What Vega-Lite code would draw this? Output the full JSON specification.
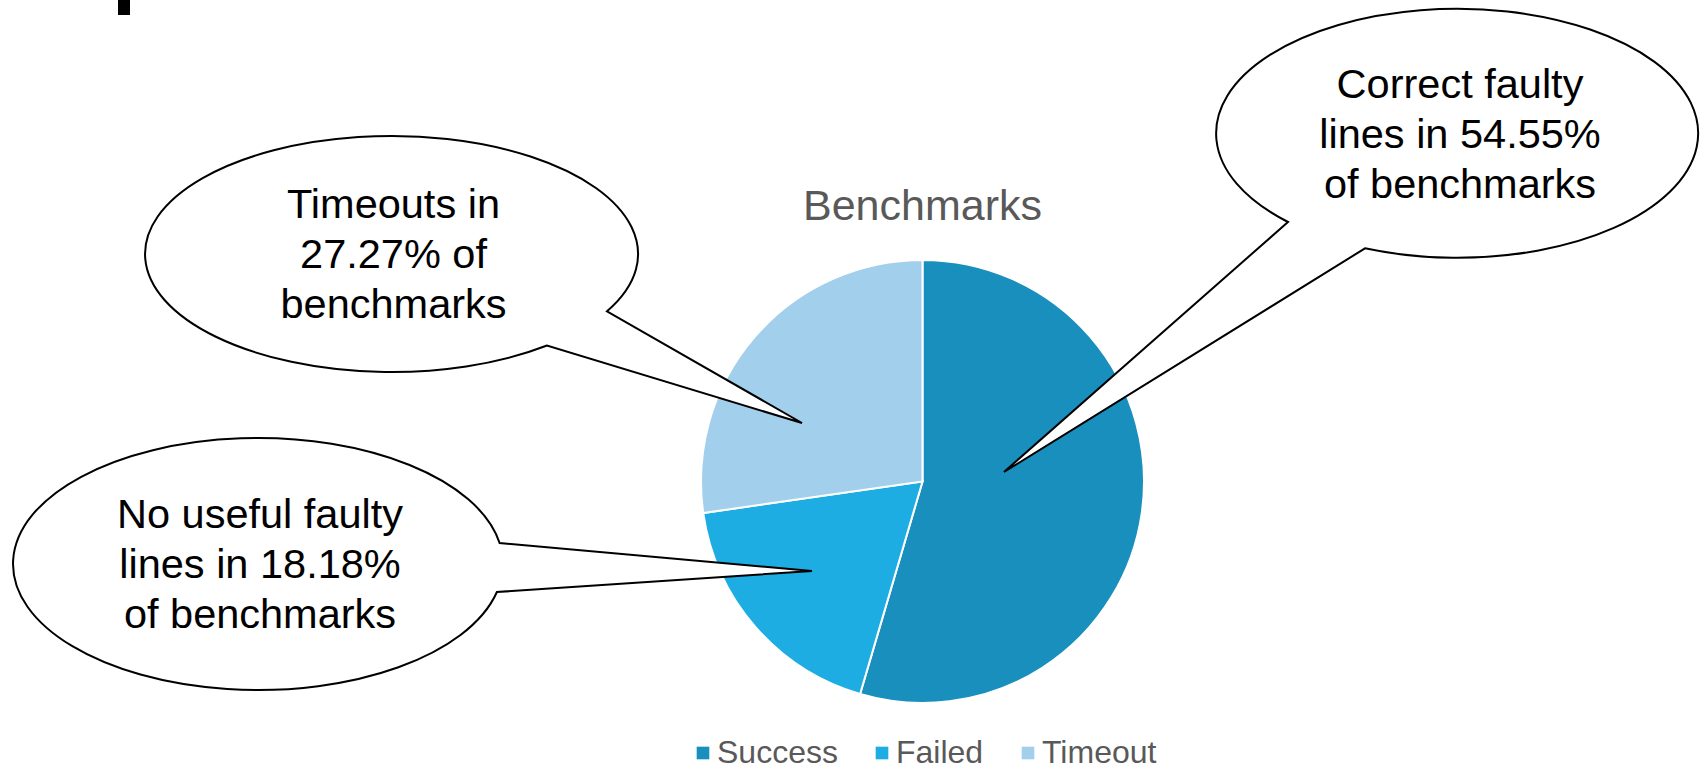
{
  "$schema": "https://vega.github.io/schema/vega-lite/v6.json",
  "width": 1701,
  "height": 771,
  "autosize": {"type": "none"},
  "padding": 0,
  "background": "white",
  "config": {"view": {"stroke": null}, "font": "Liberation Sans"},
  "datasets": {
    "slices": [
      {"status": "Success", "count": 6, "idx": 1},
      {"status": "Failed", "count": 2, "idx": 2},
      {"status": "Timeout", "count": 3, "idx": 3}
    ],
    "callouts": [
      {"id": "success", "cx": 1458, "cy": 133.5, "lines": ["Correct faulty", "lines in 54.55%", "of benchmarks"]},
      {"id": "timeout", "cx": 391.5, "cy": 254, "lines": ["Timeouts in", "27.27% of", "benchmarks"]},
      {"id": "failed", "cx": 258, "cy": 564, "lines": ["No useful faulty", "lines in 18.18%", "of benchmarks"]}
    ],
    "titles": [{"label": "Benchmarks"}]
  },
  "layer": [
    {
      "data": {"name": "titles"},
      "mark": {"type": "text", "fontSize": 43, "color": "#595959", "align": "center", "baseline": "alphabetic", "font": "Liberation Sans"},
      "encoding": {
        "text": {"field": "label", "type": "nominal"},
        "x": {"datum": 922.5, "type": "quantitative", "scale": {"domain": [0, 1701], "nice": false, "zero": false}, "axis": null},
        "y": {"datum": 220, "type": "quantitative", "scale": {"domain": [0, 771], "reverse": true, "nice": false, "zero": false}, "axis": null}
      }
    },
    {
      "data": {"name": "slices"},
      "mark": {"type": "arc", "outerRadius": 221.5, "stroke": "white", "strokeWidth": 2},
      "encoding": {
        "theta": {"field": "count", "type": "quantitative", "stack": true},
        "order": {"field": "idx", "type": "quantitative"},
        "color": {
          "field": "status",
          "type": "nominal",
          "scale": {"domain": ["Success", "Failed", "Timeout"], "range": ["#188FBD", "#1EADE2", "#A2CFEC"]},
          "legend": {
            "title": null,
            "orient": "none",
            "direction": "horizontal",
            "legendX": 687,
            "legendY": 737,
            "padding": 0,
            "symbolType": "square",
            "symbolSize": 160,
            "symbolStrokeWidth": 0,
            "labelFontSize": 32,
            "labelFont": "Liberation Sans",
            "labelColor": "#595959",
            "labelOffset": -2,
            "columnPadding": 28
          }
        },
        "x": {"datum": 922.5, "type": "quantitative", "scale": {"domain": [0, 1701], "nice": false, "zero": false}, "axis": null},
        "y": {"datum": 481.5, "type": "quantitative", "scale": {"domain": [0, 771], "reverse": true, "nice": false, "zero": false}, "axis": null}
      }
    },
    {
      "data": {"name": "callouts"},
      "mark": {"type": "point", "filled": true, "fill": "white", "stroke": "black", "strokeWidth": 2, "opacity": 1, "size": 4},
      "encoding": {
        "shape": {
          "field": "id",
          "type": "nominal",
          "scale": {
            "domain": ["success", "timeout", "failed"],
            "range": [
              "M-170,88.5 A241,124.5 0 1 1 -93,114.85 L-454,338.5 Z",
              "M215.5,57.3 A246.5,118 0 1 0 155.5,91.55 L410.5,169 Z",
              "M241.6,-21 A245,126 0 1 0 238.9,28 L554,7 Z"
            ]
          },
          "legend": null
        },
        "x": {"field": "cx", "type": "quantitative", "scale": {"domain": [0, 1701], "nice": false, "zero": false}, "axis": null},
        "y": {"field": "cy", "type": "quantitative", "scale": {"domain": [0, 771], "reverse": true, "nice": false, "zero": false}, "axis": null}
      }
    },
    {
      "data": {"name": "callouts"},
      "mark": {"type": "text", "fontSize": 41.5, "lineHeight": 50, "color": "black", "align": "center", "baseline": "middle", "dx": 2, "dy": -48, "font": "Liberation Sans"},
      "encoding": {
        "text": {"field": "lines"},
        "x": {"field": "cx", "type": "quantitative", "scale": {"domain": [0, 1701], "nice": false, "zero": false}, "axis": null},
        "y": {"field": "cy", "type": "quantitative", "scale": {"domain": [0, 771], "reverse": true, "nice": false, "zero": false}, "axis": null}
      }
    },
    {
      "data": {"values": [{"part": "cropped glyph"}]},
      "mark": {"type": "rule", "strokeWidth": 12, "color": "black"},
      "encoding": {
        "x": {"datum": 124, "type": "quantitative", "scale": {"domain": [0, 1701], "nice": false, "zero": false}, "axis": null},
        "y": {"datum": 0, "type": "quantitative", "scale": {"domain": [0, 771], "reverse": true, "nice": false, "zero": false}, "axis": null},
        "y2": {"datum": 15}
      }
    }
  ]
}
